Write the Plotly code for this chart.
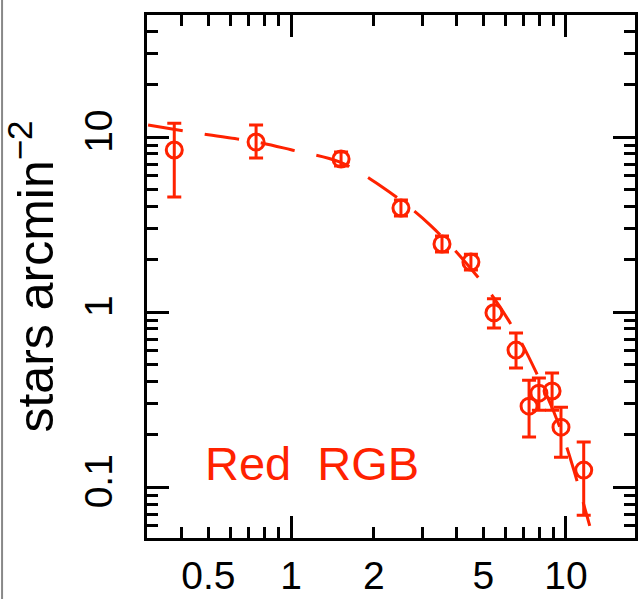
import plotly.graph_objects as go

# Observed radial profile (radius in arcmin, surface density in stars arcmin^-2)
radius = [0.376, 0.746, 1.52, 2.51, 3.54, 4.51, 5.47, 6.58, 7.34, 7.97, 8.9, 9.59, 11.6]
density = [8.43, 9.36, 7.48, 3.93, 2.45, 1.93, 0.99, 0.606, 0.290, 0.344, 0.354, 0.220, 0.125]
err_hi = [12.0, 11.7, 8.21, 4.37, 2.72, 2.14, 1.19, 0.759, 0.408, 0.42, 0.448, 0.286, 0.181]
err_lo = [4.54, 7.59, 6.82, 3.54, 2.20, 1.74, 0.81, 0.479, 0.193, 0.275, 0.275, 0.148, 0.069]

# Model curve
model_r = [0.302, 0.5, 0.78, 1.0, 1.5, 2.1, 3.2, 5.0, 6.4, 7.8, 9.6, 12.2]
model_v = [11.7, 10.3, 9.25, 8.45, 7.2, 5.3, 3.15, 1.45, 0.82, 0.45, 0.21, 0.06]

x_major = [1, 10]
x_labels = [0.5, 1, 2, 5, 10]
x_minor = [0.4, 0.5, 0.6, 0.7, 0.8, 0.9, 2, 3, 4, 5, 6, 7, 8, 9]
y_major = [0.1, 1, 10]
y_minor = [0.06, 0.07, 0.08, 0.09, 0.2, 0.3, 0.4, 0.5, 0.6, 0.7, 0.8, 0.9,
           2, 3, 4, 5, 6, 7, 8, 9, 20, 30, 40]

RED = "#ff2200"
FONT = "Liberation Sans"
XR = [-0.524, 1.251]
YR = [-1.291, 1.697]

up = [h - d for h, d in zip(err_hi, density)]
dn = [d - l for d, l in zip(density, err_lo)]

fig = go.Figure()
fig.add_trace(go.Scatter(
    x=model_r, y=model_v, mode="lines", line_shape="spline",
    line=dict(color=RED, width=3, dash="35px,22px"), showlegend=False, hoverinfo="skip"))
fig.add_trace(go.Scatter(
    x=radius, y=density, mode="markers",
    marker=dict(symbol="circle-open", size=16, color=RED, line=dict(color=RED, width=3)),
    error_y=dict(type="data", symmetric=False, array=up, arrayminus=dn,
                 color=RED, thickness=3, width=7),
    showlegend=False))
# invisible trace to activate the overlay axis that carries the x tick labels
fig.add_trace(go.Scatter(x=[1], y=[1], xaxis="x2", yaxis="y", mode="markers",
                         marker=dict(opacity=0), showlegend=False, hoverinfo="skip"))

tick_common = dict(tickcolor="black", tickwidth=3, showgrid=False, zeroline=False,
                   automargin=False,
                   tickfont=dict(family=FONT, size=39, color="black"))

fig.update_layout(
    width=640, height=599,
    margin=dict(l=147, r=5, t=15, b=61, pad=0),
    plot_bgcolor="white", paper_bgcolor="white",
    font=dict(family=FONT, color="black"),
    xaxis=dict(type="log", range=XR, tickmode="array", tickvals=x_major,
               showticklabels=False, ticks="inside", ticklen=22,
               showline=True, linewidth=3, linecolor="black", mirror="ticks",
               minor=dict(tickmode="array", tickvals=x_minor, ticks="inside",
                          ticklen=11, tickwidth=3, tickcolor="black", showgrid=False),
               **tick_common),
    xaxis2=dict(type="log", range=XR, overlaying="x", anchor="y", side="bottom",
                tickmode="array", tickvals=x_labels,
                ticktext=[str(v) for v in x_labels], ticks="",
                showline=False, ticklabelstandoff=11, **tick_common),
    yaxis=dict(type="log", range=YR, tickmode="array", tickvals=y_major,
               ticktext=[str(v) for v in y_major], tickangle=-90,
               ticks="inside", ticklen=22,
               showline=True, linewidth=3, linecolor="black", mirror="ticks",
               ticklabelstandoff=16,
               minor=dict(tickmode="array", tickvals=y_minor, ticks="inside",
                          ticklen=11, tickwidth=3, tickcolor="black", showgrid=False),
               title=dict(text="stars arcmin<sup>\u22122</sup>",
                          font=dict(family=FONT, size=50, color="black"), standoff=12),
               **tick_common),
    annotations=[dict(text="Red\u00a0\u00a0RGB", xref="paper", yref="paper", x=0.115, y=0.143,
                      xanchor="left", yanchor="middle", showarrow=False,
                      font=dict(family=FONT, size=47, color=RED))],
    shapes=[dict(type="line", xref="paper", yref="paper", x0=-0.297, x1=-0.297,
                 y0=-0.2, y1=1.1, line=dict(color="#888888", width=2))],
)

fig.write_html("out.html")
